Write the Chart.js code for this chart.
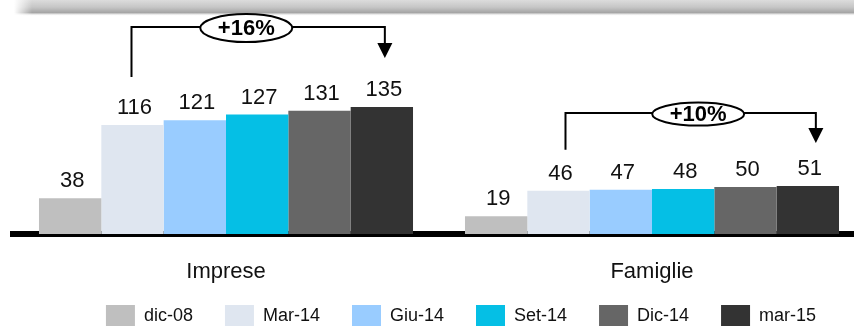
<!DOCTYPE html>
<html>
<head>
<meta charset="utf-8">
<script src="https://cdn.jsdelivr.net/npm/chart.js@4.4.1/dist/chart.umd.min.js"></script>
<style>
  html, body { margin: 0; padding: 0; background: #fff; overflow: hidden; }
  #wrap { position: relative; width: 922px; height: 326px; }
</style>
</head>
<body>
<div id="wrap"><canvas id="c"></canvas></div>
<script>
// ---- data ----
const categories = ['Imprese', 'Famiglie'];
const seriesLabels = ['dic-08', 'Mar-14', 'Giu-14', 'Set-14', 'Dic-14', 'mar-15'];
const dic08 = [38, 19];
const mar14 = [116, 46];
const giu14 = [121, 47];
const set14 = [127, 48];
const dic14 = [131, 50];
const mar15 = [135, 51];
const growthLabels = ['+16%', '+10%'];

// ---- styles ----
const seriesColors = ['#bfbfbf', '#dfe6f0', '#99ccff', '#05bfe5', '#666666', '#333333'];
const FONT = "'Liberation Sans', Arial, sans-serif";
const seriesValues = [dic08, mar14, giu14, set14, dic14, mar15];

// annotation geometry (styling offsets, in px)
const annotationStyle = [
  { from: 1, to: 5, lift: 80, startGap: 48, tipGap: 49, startDx: -1, endDx: 3, labelFrac: 0.453, rx: 46, ry: 14 },
  { from: 1, to: 5, lift: 73, startGap: 41, tipGap: 43, startDx: 7, endDx: 8, labelFrac: 0.53, rx: 46, ry: 11.5 }
];

const topBand = {
  id: 'topBand',
  beforeDraw(chart) {
    const ctx = chart.ctx;
    ctx.save();
    const g = ctx.createLinearGradient(0, 0, 0, 16);
    g.addColorStop(0, '#dcdcdc');
    g.addColorStop(0.45, '#c6c6c6');
    g.addColorStop(0.8, '#a4a4a4');
    g.addColorStop(1, 'rgba(255,255,255,0)');
    ctx.fillStyle = g;
    ctx.fillRect(14, 0, 920, 16);
    const g2 = ctx.createLinearGradient(14, 0, 32, 0);
    g2.addColorStop(0, 'rgba(255,255,255,1)');
    g2.addColorStop(1, 'rgba(255,255,255,0)');
    ctx.fillStyle = g2;
    ctx.fillRect(14, 0, 18, 16);
    ctx.restore();
  }
};

const layoutTweak = {
  id: 'layoutTweak',
  afterLayout(chart) {
    // let x tick labels extend below the (shortened) axis box
    chart.scales.x.bottom = chart.height;
    // shift legend to the reference's horizontal centre
    if (chart.legend) {
      chart.legend.left += 22;
      chart.legend.right += 22;
    }
  }
};

const valueLabels = {
  id: 'valueLabels',
  afterDatasetsDraw(chart) {
    const ctx = chart.ctx;
    ctx.save();
    ctx.font = '22px ' + FONT;
    ctx.fillStyle = '#111';
    ctx.textAlign = 'center';
    ctx.textBaseline = 'alphabetic';
    chart.data.datasets.forEach((ds, di) => {
      const meta = chart.getDatasetMeta(di);
      meta.data.forEach((bar, i) => {
        ctx.fillText(String(ds.data[i]), bar.x + 2, bar.y - 11);
      });
    });
    ctx.restore();
  }
};

const growthArrows = {
  id: 'growthArrows',
  afterDraw(chart) {
    const ctx = chart.ctx;
    ctx.save();
    annotationStyle.forEach((a, ci) => {
      const b1 = chart.getDatasetMeta(a.from).data[ci];
      const b2 = chart.getDatasetMeta(a.to).data[ci];
      const x1 = b1.x + a.startDx;
      const x2 = b2.x + a.endDx;
      const topY = Math.min(b1.y, b2.y);
      const lineY = topY - a.lift;
      const startY = b1.y - a.startGap;
      const tipY = b2.y - a.tipGap;
      ctx.strokeStyle = '#000';
      ctx.lineWidth = 2;
      ctx.beginPath();
      ctx.moveTo(x1, startY);
      ctx.lineTo(x1, lineY);
      ctx.lineTo(x2, lineY);
      ctx.lineTo(x2, tipY - 14);
      ctx.stroke();
      ctx.fillStyle = '#000';
      ctx.beginPath();
      ctx.moveTo(x2 - 7.5, tipY - 15);
      ctx.lineTo(x2 + 7.5, tipY - 15);
      ctx.lineTo(x2, tipY);
      ctx.closePath();
      ctx.fill();
      const cx = x1 + (x2 - x1) * a.labelFrac;
      const cy = lineY + 1;
      ctx.beginPath();
      ctx.ellipse(cx, cy, a.rx, a.ry, 0, 0, Math.PI * 2);
      ctx.fillStyle = '#fff';
      ctx.fill();
      ctx.lineWidth = 2;
      ctx.stroke();
      ctx.fillStyle = '#000';
      ctx.font = 'bold 22px ' + FONT;
      ctx.textAlign = 'center';
      ctx.textBaseline = 'middle';
      ctx.fillText(growthLabels[ci], cx, cy + 1);
    });
    ctx.restore();
  }
};

new Chart(document.getElementById('c'), {
  type: 'bar',
  data: {
    labels: categories,
    datasets: seriesLabels.map((lab, i) => ({
      label: lab,
      data: seriesValues[i],
      backgroundColor: seriesColors[i],
      borderWidth: 0,
      categoryPercentage: 0.878,
      barPercentage: 1.0
    }))
  },
  options: {
    responsive: true,
    maintainAspectRatio: false,
    animation: false,
    layout: { padding: { top: 46, left: 13, right: 57, bottom: 0 } },
    plugins: {
      legend: {
        position: 'bottom',
        maxHeight: 53,
        labels: {
          boxWidth: 29,
          boxHeight: 22,
          padding: 32,
          color: '#111',
          font: { family: FONT, size: 18 }
        }
      },
      tooltip: { enabled: false }
    },
    scales: {
      x: {
        grid: { display: false, drawTicks: false },
        border: { display: true, color: '#000', width: 6 },
        ticks: { color: '#111', font: { family: FONT, size: 22 }, padding: 25 },
        afterFit(scale) { scale.height = 39; }
      },
      y: {
        display: false,
        min: 0,
        max: 200
      }
    }
  },
  plugins: [topBand, layoutTweak, valueLabels, growthArrows]
});
</script>
</body>
</html>
